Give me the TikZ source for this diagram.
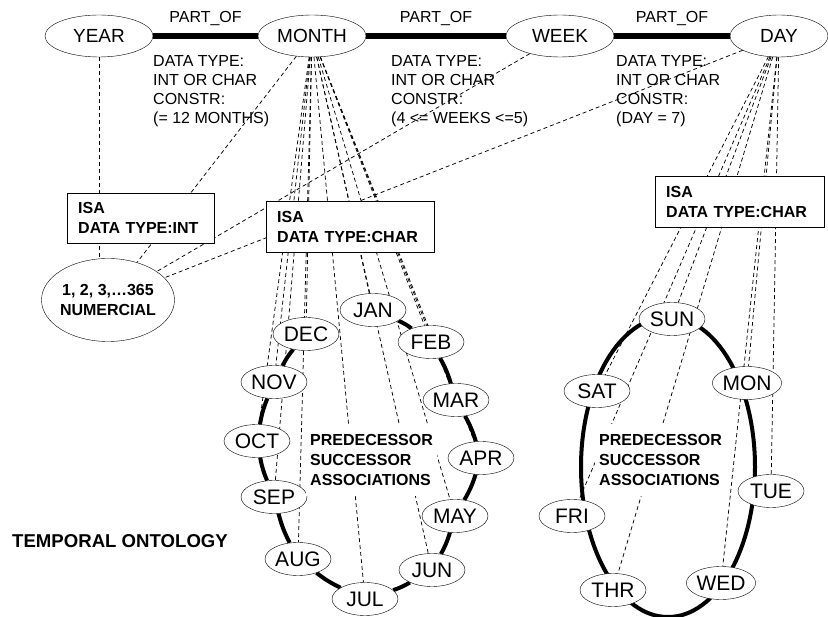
\documentclass[tikz,border=0pt]{standalone}
\usepackage{fontspec}
\setmainfont{Liberation Sans}
\usetikzlibrary{shapes.geometric,backgrounds,positioning}

\begin{document}
\begin{tikzpicture}[x=1pt,y=-1pt,font=\fontsize{16}{19}\selectfont,
  unit/.style={ellipse,draw,fill=white,inner sep=0pt,minimum width=108pt,minimum height=42pt,font=\fontsize{19}{22}\selectfont},
  elem/.style={ellipse,draw,fill=white,inner sep=0pt,minimum width=66pt,minimum height=33pt,font=\fontsize{21}{24}\selectfont},
  isabox/.style={draw,fill=white,anchor=north west,align=left,inner xsep=11pt,inner ysep=0pt,minimum height=51pt,font=\bfseries\fontsize{16}{20}\selectfont},
  note/.style={anchor=north west,align=left,inner sep=0pt},
  assoc/.style={anchor=north west,align=left,fill=white,inner xsep=4pt,inner ysep=10pt,font=\bfseries\fontsize{16}{20}\selectfont},
  partof/.style={line width=5.2pt},
  ring/.style={line width=4pt},
  isa/.style={dash pattern=on 4pt off 3pt,line width=0.75pt}]
\useasboundingbox (0,0) rectangle (828,617);
\begin{scope}[on background layer]
\fill[white] (0,0) rectangle (828,617);
\end{scope}

% time units
\node[unit] (year) at (99,36) {YEAR};
\node[unit] (month) at (312,36) {MONTH};
\node[unit] (week) at (560,36) {WEEK};
\node[unit,minimum width=98pt] (day) at (779,36) {DAY};
\draw[partof] (year) -- node[above=4pt] {PART\_OF} (month);
\draw[partof] (month) -- node[above=4pt] {PART\_OF} (week);
\draw[partof] (week) -- node[above=4pt] {PART\_OF} (day);

\node[note] (dtmonth) at (153,55) {DATA TYPE:\\INT OR CHAR\\CONSTR:\\(= 12 MONTHS)};
\node[note] (dtweek) at (391,55) {DATA TYPE:\\INT OR CHAR\\CONSTR:\\(4 <= WEEKS <=5)};
\node[note] (dtday) at (616,55) {DATA TYPE:\\INT OR CHAR\\CONSTR:\\(DAY = 7)};

% isa boxes
\node[isabox,text width=125pt,minimum height=50pt] (isaint) at (67,193) {ISA\\DATA TYPE:INT};
\node[isabox,text width=146pt] (isamonth) at (266,201) {ISA\\DATA TYPE:CHAR};
\node[isabox,text width=147pt] (isaday) at (655,176) {ISA\\DATA TYPE:CHAR};
\node[ellipse,draw,fill=white,inner sep=0pt,inner xsep=-2pt,minimum width=133pt,minimum height=83pt,align=center,
  font=\bfseries\fontsize{16}{20}\selectfont] (numer) at (108,300) {1, 2, 3,…365\\NUMERCIAL};

% months
\node[elem] (jan) at (373,310) {JAN};
\node[elem] (feb) at (431,342) {FEB};
\node[elem] (mar) at (456,400) {MAR};
\node[elem] (apr) at (481,458) {APR};
\node[elem] (may) at (455,516) {MAY};
\node[elem] (jun) at (432,570) {JUN};
\node[elem] (jul) at (365,599) {JUL};
\node[elem] (aug) at (298,559) {AUG};
\node[elem] (sep) at (274,497) {SEP};
\node[elem] (oct) at (257,441) {OCT};
\node[elem] (nov) at (274,382) {NOV};
\node[elem] (dec) at (306,334) {DEC};
\begin{scope}[on background layer]
\foreach \a/\b in {jan/feb,feb/mar,mar/apr,apr/may,may/jun,jun/jul,jul/aug,aug/sep,sep/oct,oct/nov,nov/dec}
  \draw[ring] (\a) to[bend left=6] (\b);
\end{scope}

% days
\draw[ring] (668,467) ellipse [x radius=87,y radius=150];
\node[elem] (sun) at (672,319) {SUN};
\node[elem] (mon) at (747,383) {MON};
\node[elem] (tue) at (771,491) {TUE};
\node[elem] (wed) at (721,583) {WED};
\node[elem] (thr) at (613,590) {THR};
\node[elem] (fri) at (572,516) {FRI};
\node[elem] (sat) at (597,391) {SAT};

\node[assoc] (monthassoc) at (306,424) {PREDECESSOR\\SUCCESSOR\\ASSOCIATIONS};
\node[assoc] (dayassoc) at (595,424) {PREDECESSOR\\SUCCESSOR\\ASSOCIATIONS};
\node[anchor=west,inner sep=0pt,font=\bfseries\fontsize{18.6}{22}\selectfont] (title) at (12,541) {TEMPORAL ONTOLOGY};

% isa links
\begin{scope}[on background layer]
\draw[isa] (year) -- (year |- numer.north);
\draw[isa] (month) -- (numer);
\draw[isa] (week) -- (numer);
\draw[isa] (day) -- (numer);
\foreach \m in {jan,feb,mar,apr,may,jun,jul,aug,sep,oct,nov,dec}
  \draw[isa] (month) -- (\m);
\foreach \d in {sun,mon,tue,wed,thr,fri,sat}
  \draw[isa] (day) -- (\d);
\end{scope}
\end{tikzpicture}
\end{document}
